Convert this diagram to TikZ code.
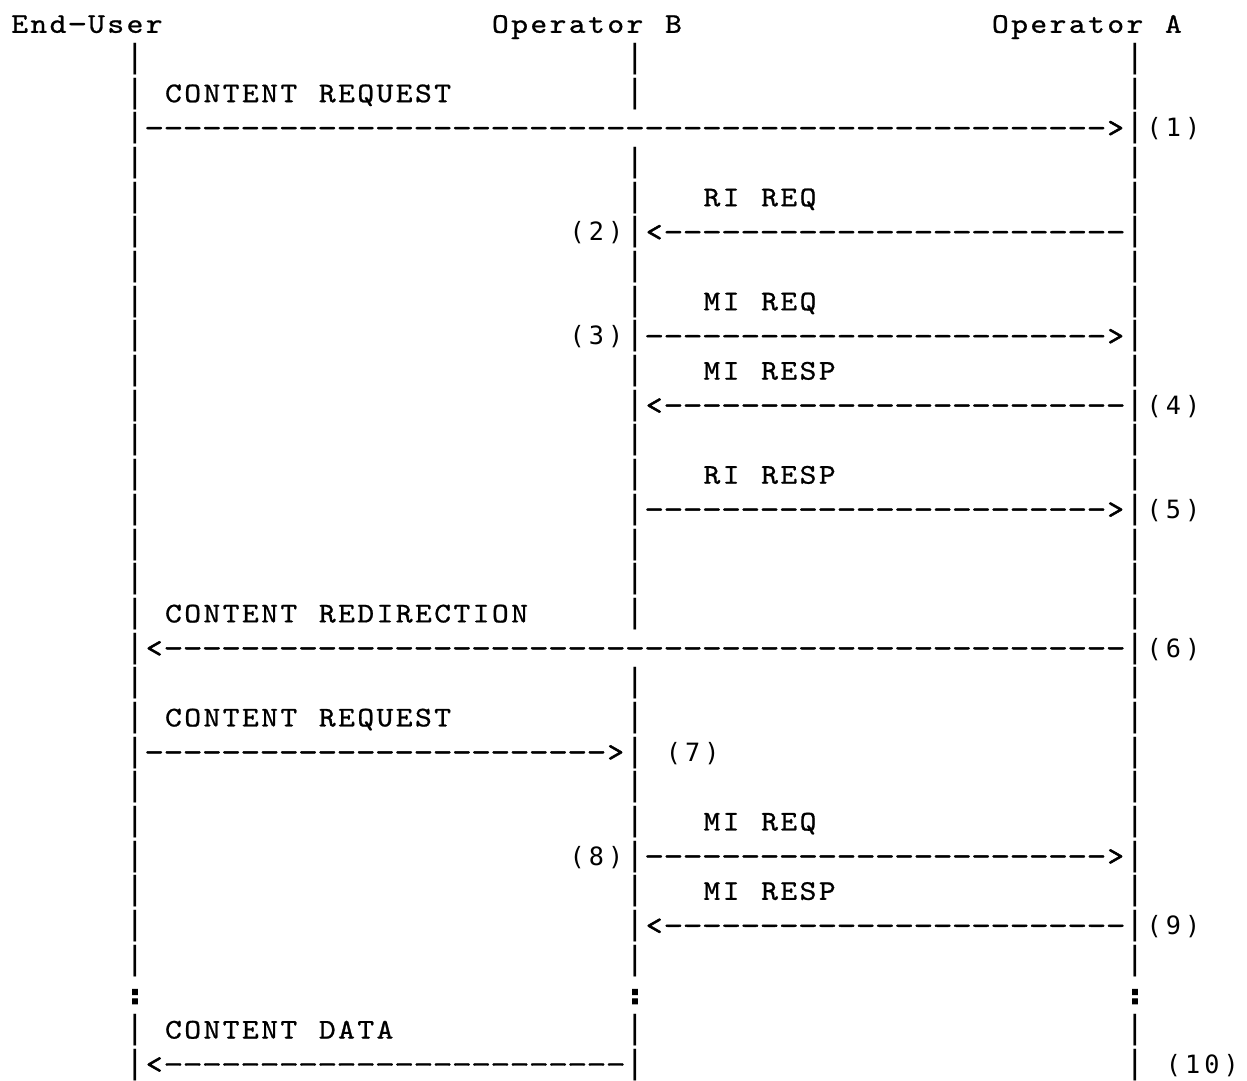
\documentclass[tikz,border=0pt]{standalone}
\usepackage{fontspec}
\usepackage{graphicx}
\newfontfamily\sansmono{DejaVu Sans Mono}
\newfontfamily\colonfont{DejaVu Sans Mono}[FakeBold=4]
\newfontfamily\courlike{lmmono10-regular.otf}[FakeBold=0.8]
\newfontfamily\dashfont{lmmono10-regular.otf}[FakeBold=1.6]
\ExplSyntaxOn
\dim_new:N \l_rk_cell_dim
\dim_set:Nn \l_rk_cell_dim {19.23pt}
\cs_new_protected:Npn \rk_cell:n #1
  {
    \makebox[\l_rk_cell_dim][c]
      {
        \str_case:nnF {#1}
          {
            {|} { \sansmono \fontsize{31.7}{31.7}\selectfont | }
            {:} { \colonfont \bfseries \fontsize{24}{24}\selectfont \scalebox{1.15}{:} }
            {-} { \dashfont \fontsize{28.5}{28.5}\selectfont \scalebox{1.3}[1]{-} }
            {<} { \dashfont \fontsize{28.5}{28.5}\selectfont \scalebox{1.1}[1]{<} }
            {>} { \dashfont \fontsize{28.5}{28.5}\selectfont \scalebox{1.1}[1]{>} }
          }
          {
            \tl_if_in:nnTF {0123456789()} {#1}
              { \sansmono \fontsize{25.2}{25.2}\selectfont #1 }
              { \courlike \fontsize{28.5}{28.5}\selectfont \scalebox{1.12}[1]{#1} }
          }
      }
  }
\cs_new_protected:Npn \rk_text:n #1 { \str_map_inline:nn {#1} { \rk_cell:n {##1} } }
\cs_new_protected:Npn \rk_dashes:n #1 { \prg_replicate:nn {#1} { \rk_cell:n {-} } }
\NewDocumentCommand \gtext {m} { \rk_text:n {#1} }
\NewDocumentCommand \rarr {m} { \rk_dashes:n {#1} \rk_cell:n {>} }
\NewDocumentCommand \larr {m} { \rk_cell:n {<} \rk_dashes:n {#1} }
\ExplSyntaxOff
\begin{document}
\begin{tikzpicture}[x=19.23pt,y=-34.68pt,
  txt/.style={anchor=base west,inner sep=0pt,outer sep=0pt}]
\useasboundingbox (-10pt,32.8pt) rectangle (1237pt,-1047.2pt);
\fill[white] (-10pt,32.8pt) rectangle (1237pt,-1047.2pt);
% header
\node[txt] (eu) at (0,0) {\gtext{End-User}};
\node[txt] (ob) at (25,0) {\gtext{Operator B}};
\node[txt] (oa) at (51,0) {\gtext{Operator A}};
% lifelines
\foreach \c in {6,58}{\foreach \r in {1,...,27,29,30}{\node[txt] (bar-\c-\r) at (\c,\r) {\gtext{|}};}}
\foreach \r in {1,2,4,5,...,17,19,20,...,27,29,30}{\node[txt] (bar-32-\r) at (32,\r) {\gtext{|}};}
\foreach \c in {6,32,58}{\node[txt] (dots-\c) at (\c,28) {\gtext{:}};}
% messages
\node[txt] (m1t) at (8,2) {\gtext{CONTENT REQUEST}};
\node[txt] (m1) at (7,3) {\rarr{50}};
\node[txt] (n1) at (59,3) {\gtext{(1)}};
\node[txt] (m2t) at (36,5) {\gtext{RI REQ}};
\node[txt] (n2) at (29,6) {\gtext{(2)}};
\node[txt] (m2) at (33,6) {\larr{24}};
\node[txt] (m3t) at (36,8) {\gtext{MI REQ}};
\node[txt] (n3) at (29,9) {\gtext{(3)}};
\node[txt] (m3) at (33,9) {\rarr{24}};
\node[txt] (m4t) at (36,10) {\gtext{MI RESP}};
\node[txt] (m4) at (33,11) {\larr{24}};
\node[txt] (n4) at (59,11) {\gtext{(4)}};
\node[txt] (m5t) at (36,13) {\gtext{RI RESP}};
\node[txt] (m5) at (33,14) {\rarr{24}};
\node[txt] (n5) at (59,14) {\gtext{(5)}};
\node[txt] (m6t) at (8,17) {\gtext{CONTENT REDIRECTION}};
\node[txt] (m6) at (7,18) {\larr{50}};
\node[txt] (n6) at (59,18) {\gtext{(6)}};
\node[txt] (m7t) at (8,20) {\gtext{CONTENT REQUEST}};
\node[txt] (m7) at (7,21) {\rarr{24}};
\node[txt] (n7) at (34,21) {\gtext{(7)}};
\node[txt] (m8t) at (36,23) {\gtext{MI REQ}};
\node[txt] (n8) at (29,24) {\gtext{(8)}};
\node[txt] (m8) at (33,24) {\rarr{24}};
\node[txt] (m9t) at (36,25) {\gtext{MI RESP}};
\node[txt] (m9) at (33,26) {\larr{24}};
\node[txt] (n9) at (59,26) {\gtext{(9)}};
\node[txt] (m10t) at (8,29) {\gtext{CONTENT DATA}};
\node[txt] (m10) at (7,30) {\larr{24}};
\node[txt] (n10) at (60,30) {\gtext{(10)}};
\end{tikzpicture}
\end{document}
